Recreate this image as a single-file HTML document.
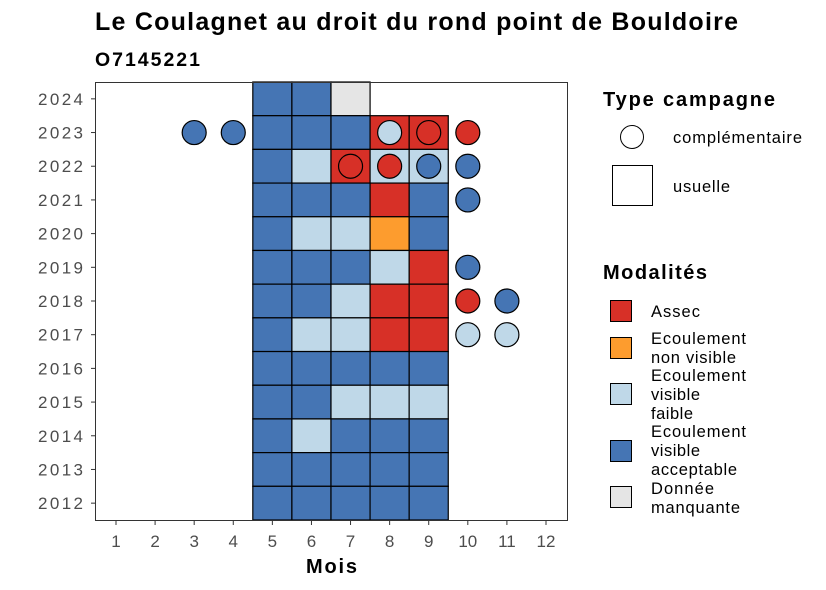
<!DOCTYPE html>
<html><head><meta charset="utf-8"><style>
body{margin:0;background:#fff;}
svg{display:block;font-family:"Liberation Sans",sans-serif;}
</style></head><body>
<svg id="chart" width="826" height="590">
<text x="95" y="30" font-size="25" font-weight="bold" textLength="643" lengthAdjust="spacing">Le Coulagnet au droit du rond point de Bouldoire</text>
<text x="95" y="66" font-size="19.5" font-weight="bold" textLength="105" lengthAdjust="spacing">O7145221</text>
<g id="plot"></g>
<rect x="95.5" y="82.5" width="472" height="438" fill="none" stroke="#333" stroke-width="1"/>
<g id="axes"></g>
<text x="306" y="573" font-size="20" font-weight="bold" textLength="51" lengthAdjust="spacing">Mois</text>
<g>
<text x="603" y="106" font-size="20" font-weight="bold" textLength="172" lengthAdjust="spacing">Type campagne</text>
<circle cx="632" cy="137" r="11.5" fill="#fff" stroke="#000"/>
<text x="673" y="143" font-size="16.5" textLength="129" lengthAdjust="spacing">complémentaire</text>
<rect x="612.5" y="165.5" width="40" height="40" fill="#fff" stroke="#000"/>
<text x="673" y="192" font-size="16.5" textLength="57" lengthAdjust="spacing">usuelle</text>
</g>
<g font-size="16.5">
<text x="603" y="279" font-size="20" font-weight="bold" textLength="104" lengthAdjust="spacing">Modalités</text>
<rect x="610.5" y="300.5" width="21" height="21" fill="#d73027" stroke="#000"/>
<text x="651" y="317" textLength="49" lengthAdjust="spacing">Assec</text>
<rect x="610.5" y="337.5" width="21" height="21" fill="#fd9c2e" stroke="#000"/>
<text x="651" y="344" textLength="95" lengthAdjust="spacing">Ecoulement</text><text x="651" y="363" textLength="85" lengthAdjust="spacing">non visible</text>
<rect x="610.5" y="383.5" width="21" height="21" fill="#bfd8e8" stroke="#000"/>
<text x="651" y="381" textLength="95" lengthAdjust="spacing">Ecoulement</text><text x="651" y="400" textLength="49" lengthAdjust="spacing">visible</text><text x="651" y="419" textLength="42" lengthAdjust="spacing">faible</text>
<rect x="610.5" y="440.5" width="21" height="21" fill="#4575b4" stroke="#000"/>
<text x="651" y="437" textLength="95" lengthAdjust="spacing">Ecoulement</text><text x="651" y="456" textLength="49" lengthAdjust="spacing">visible</text><text x="651" y="475" textLength="86" lengthAdjust="spacing">acceptable</text>
<rect x="610.5" y="486.5" width="21" height="21" fill="#e5e5e5" stroke="#000"/>
<text x="651" y="494" textLength="63" lengthAdjust="spacing">Donnée</text><text x="651" y="513" textLength="89" lengthAdjust="spacing">manquante</text>
</g>
</svg>
<script>
const years=[2012,2013,2014,2015,2016,2017,2018,2019,2020,2021,2022,2023,2024];
const months=[1,2,3,4,5,6,7,8,9,10,11,12];
const colors={A:"#d73027",O:"#fd9c2e",F:"#bfd8e8",V:"#4575b4",M:"#e5e5e5"};
const tileYears=[2024,2023,2022,2021,2020,2019,2018,2017,2016,2015,2014,2013,2012];
const tileVals=[
"VVM","VVVAA","VFAFF","VVVAV","VFFOV","VVVFA","VVFAA","VFFAA","VVVVV","VVFFF","VFVVV","VVVVV","VVVVV"];
const circYears=[2023,2023,2023,2023,2023,2022,2022,2022,2022,2021,2019,2018,2018,2017,2017];
const circMonths=[3,4,8,9,10,7,8,9,10,10,10,10,11,10,11];
const circVals=["V","V","F","A","A","A","A","V","V","V","V","A","V","F","F"];
const ns="http://www.w3.org/2000/svg";
const x=m=>116+(m-1)*39.09;
const rowH=438/13;
const y=yr=>520-(yr-2012+0.5)*rowH;
const plot=document.getElementById('plot'),axes=document.getElementById('axes');
function mk(t,a,p){const e=document.createElementNS(ns,t);for(const k in a)e.setAttribute(k,a[k]);p.appendChild(e);return e;}
tileYears.forEach((yr,i)=>{[...tileVals[i]].forEach((c,j)=>{const m=5+j;
const r=mk('rect',{x:x(m)-19.55,y:y(yr)-rowH/2,width:39.09,height:rowH,fill:colors[c],stroke:'#000','stroke-width':1.2},plot);

});});
circYears.forEach((yr,i)=>{const c=mk('circle',{cx:x(circMonths[i]),cy:y(yr),r:12,fill:colors[circVals[i]],stroke:'#000','stroke-width':1.2},plot);

});
years.forEach(yr=>{mk('line',{x1:91,x2:95,y1:y(yr),y2:y(yr),stroke:'#333'},axes);
const t=mk('text',{x:38,y:y(yr)+6,'font-size':17,textLength:45,lengthAdjust:'spacing',fill:'#4d4d4d'},axes);t.textContent=yr;

});
months.forEach(m=>{mk('line',{x1:x(m),x2:x(m),y1:521,y2:525,stroke:'#333'},axes);
const t=mk('text',{x:x(m),y:547,'font-size':17,'text-anchor':'middle',fill:'#4d4d4d'},axes);t.textContent=m;

});
</script>
</body></html>
